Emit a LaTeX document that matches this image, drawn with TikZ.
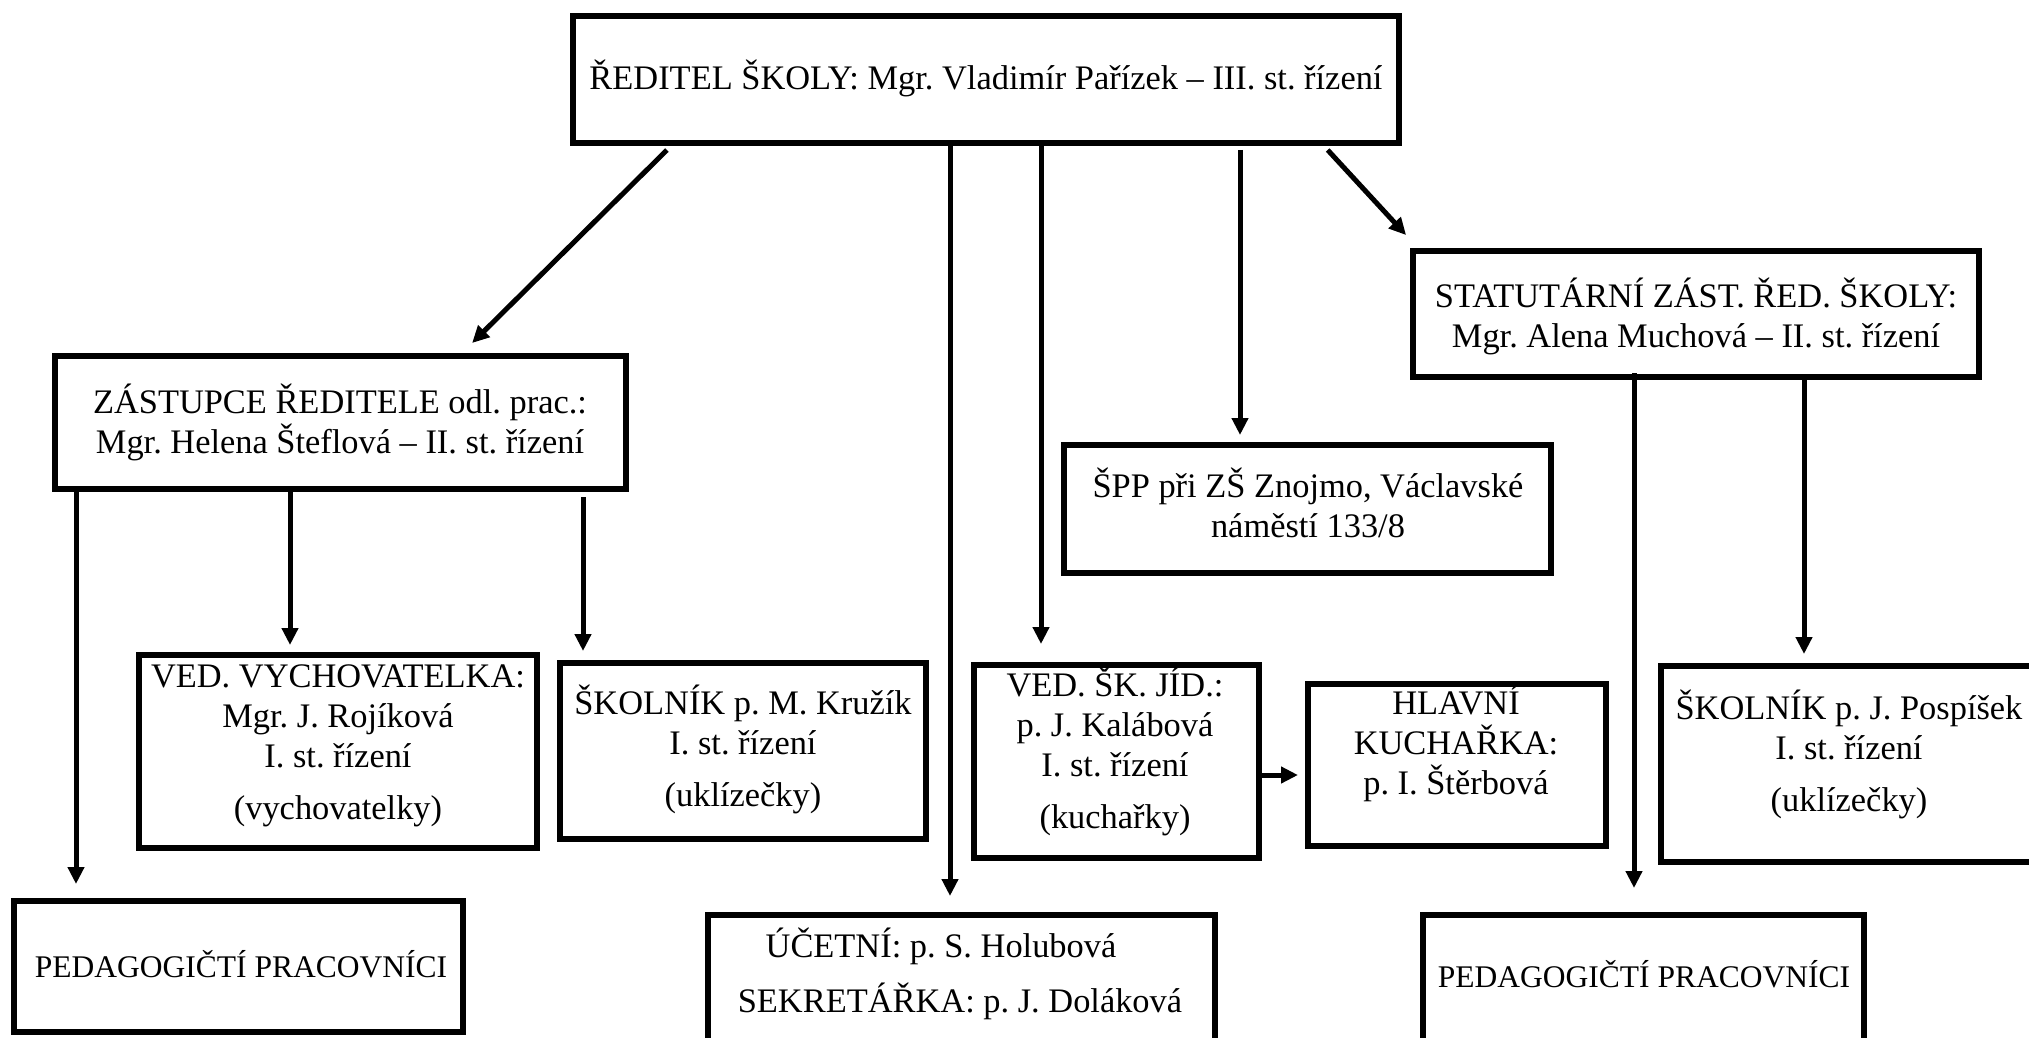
\documentclass[tikz,border=0pt]{standalone}
\usepackage{fontspec}
\setmainfont{Liberation Serif}
\usetikzlibrary{arrows.meta}
\frenchspacing
\newcommand\fbig{\fontsize{34.4pt}{40pt}\selectfont\lineskiplimit=-100pt\relax}
\newcommand\fsmall{\fontsize{31.5pt}{36pt}\selectfont}
\newcommand\tp{\rule{0pt}{32pt}}
\begin{document}
\begin{tikzpicture}[x=1pt,y=-1pt,
  box/.style={draw, line width=6pt, inner sep=0pt},
  txt/.style={align=center, inner sep=0pt, font=\fbig},
  conn/.style={line width=5pt, -{Triangle[length=17pt,width=16pt]}}]
\useasboundingbox (0,0) rectangle (2029,1038);
\clip (0,0) rectangle (2029,1038);
\fill[white] (0,0) rectangle (2029,1038);
% boxes
\node[box, minimum width=826pt, minimum height=127pt] (top)  at (986,79.5) {};
\node[box, minimum width=571pt, minimum height=133pt] (zast) at (340.5,422.5) {};
\node[box, minimum width=566pt, minimum height=126pt] (stat) at (1696,314) {};
\node[box, minimum width=487pt, minimum height=128pt] (spp)  at (1307.5,509) {};
\node[box, minimum width=398pt, minimum height=193pt] (vych) at (338,751.5) {};
\node[box, minimum width=366pt, minimum height=176pt] (kruz) at (743,751) {};
\node[box, minimum width=285pt, minimum height=193pt] (jid)  at (1116.5,761.5) {};
\node[box, minimum width=298pt, minimum height=162pt] (hlav) at (1457,765) {};
\node[box, minimum width=381pt, minimum height=196pt] (posp) at (1851.5,764) {};
\node[box, minimum width=449pt, minimum height=131pt] (pedL) at (238.5,966.5) {};
\node[box, minimum width=507pt, minimum height=130pt] (ucet) at (961.5,980) {};
\node[box, minimum width=441pt, minimum height=130pt] (pedR) at (1643.5,980) {};
% texts
\node[txt, anchor=base]  (top-t)  at (986,90) {ŘEDITEL ŠKOLY: Mgr. Vladimír Pařízek – III. st. řízení};
\node[txt, anchor=north] (zast-t) at (340,381) {\tp ZÁSTUPCE ŘEDITELE odl. prac.:\\Mgr. Helena Šteflová – II. st. řízení};
\node[txt, anchor=north] (stat-t) at (1696,275) {\tp STATUTÁRNÍ ZÁST. ŘED. ŠKOLY:\\Mgr. Alena Muchová – II. st. řízení};
\node[txt, anchor=north] (spp-t)  at (1308,465) {\tp ŠPP při ZŠ Znojmo, Václavské\\náměstí 133/8};
\node[txt, anchor=north] (vych-t) at (338,655) {\tp VED. VYCHOVATELKA:\\Mgr. J. Rojíková\\I. st. řízení\\[12pt](vychovatelky)};
\node[txt, anchor=north] (kruz-t) at (743,682) {\tp ŠKOLNÍK p. M. Kružík\\I. st. řízení\\[12pt](uklízečky)};
\node[txt, anchor=north] (jid-t)  at (1115,664) {\tp VED. ŠK. JÍD.:\\p. J. Kalábová\\I. st. řízení\\[12pt](kuchařky)};
\node[txt, anchor=north] (hlav-t) at (1456,682) {\tp HLAVNÍ\\KUCHAŘKA:\\p. I. Štěrbová};
\node[txt, anchor=north] (posp-t) at (1849,687) {\tp ŠKOLNÍK p. J. Pospíšek\\I. st. řízení\\[12pt](uklízečky)};
\node[txt, anchor=north] (ucet-t) at (960,925) {\tp ÚČETNÍ: p. S. Holubová\hspace*{38pt}\\[15pt]SEKRETÁŘKA: p. J. Doláková};
\node[txt, anchor=base, font=\fsmall] (pedL-t) at (241,977) {PEDAGOGIČTÍ PRACOVNÍCI};
\node[txt, anchor=base, font=\fsmall] (pedR-t) at (1644,987) {PEDAGOGIČTÍ PRACOVNÍCI};
% connectors
\draw[conn, shorten <=5.7pt, shorten >=14.2pt] (top.south -| 671,0) -- (zast.north -| 462,0);
\draw[conn, shorten <=5.4pt, shorten >=17.6pt] (top.south -| 1324,0) -- (stat.north -| 1418,0);
\draw[conn, shorten >=16pt] (top.south -| 950,0) -- (ucet.north -| 950,0);
\draw[conn, shorten >=18pt] (top.south -| 1041,0) -- (jid.north -| 1041,0);
\draw[conn, shorten <=4pt, shorten >=7pt] (top.south -| 1240,0) -- (spp.north -| 1240,0);
\draw[conn, shorten >=14pt] (zast.south -| 76,0) -- (pedL.north -| 76,0);
\draw[conn, shorten >=7pt] (zast.south -| 290,0) -- (vych.north -| 290,0);
\draw[conn, shorten <=5pt, shorten >=9pt] (zast.south -| 583,0) -- (kruz.north -| 583,0);
\draw[conn, shorten <=-7pt, shorten >=24pt] (stat.south -| 1634,0) -- (pedR.north -| 1634,0);
\draw[conn, shorten >=9pt] (stat.south -| 1804,0) -- (posp.north -| 1804,0);
\draw[conn, shorten >=7pt] (jid.east |- 0,775) -- (hlav.west |- 0,775);
\end{tikzpicture}
\end{document}
